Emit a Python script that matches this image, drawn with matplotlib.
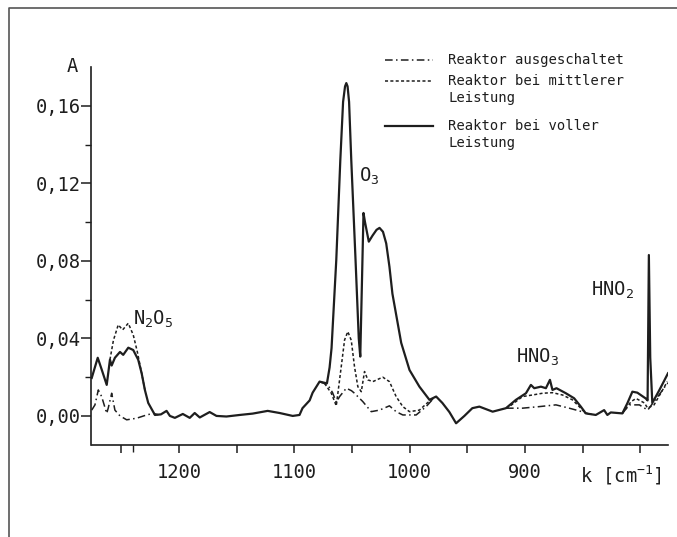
import numpy as np
import matplotlib
matplotlib.use('Agg')
import matplotlib.pyplot as plt
from matplotlib.lines import Line2D
from matplotlib.ticker import FixedLocator, FixedFormatter

plt.rcParams['font.family'] = ['DejaVu Sans Mono']
plt.rcParams['mathtext.default'] = 'regular'

# Wavenumber k [cm-1] and absorbance A
# Reactor at full power (solid line)
k_full = [1275.8, 1270.6, 1267.2, 1262.8, 1260.0, 1258.5, 1255.7, 1251.3, 1248.5, 1244.1,
          1239.8, 1235.5, 1232.5, 1229.7, 1226.8, 1221.0, 1215.8, 1210.9, 1208.0, 1203.7,
          1196.8, 1190.8, 1186.5, 1182.1, 1173.5, 1167.6, 1159.0, 1147.4, 1136.2, 1123.2,
          1112.8, 1101.5, 1095.6, 1093.0, 1086.8, 1084.2, 1078.2, 1071.8, 1069.5, 1067.8,
          1063.7, 1060.2, 1057.8, 1056.1, 1055.0, 1053.9, 1052.6, 1050.7, 1047.0, 1044.2,
          1042.9, 1041.4, 1040.1, 1038.8, 1035.5, 1032.3, 1028.8, 1026.2, 1023.2, 1020.4,
          1017.6, 1015.0, 1007.4, 1000.2, 991.6, 982.9, 977.1, 971.7, 965.6, 959.8,
          952.6, 945.7, 939.6, 928.1, 916.5, 907.9, 899.2, 894.9, 892.0, 886.2,
          881.9, 878.4, 876.2, 872.7, 864.6, 857.4, 851.6, 847.3, 838.6, 831.4,
          828.6, 825.6, 815.6, 811.2, 806.9, 802.6, 795.3, 793.7, 792.6, 791.4,
          789.6, 783.8, 780.3, 776.0]
a_full = [0.0196, 0.0300, 0.0240, 0.0160, 0.0290, 0.0260, 0.0300, 0.0330, 0.0315, 0.0352,
          0.0340, 0.0290, 0.0220, 0.0134, 0.0067, 0.0005, 0.0008, 0.0026, 0.0000, -0.0010,
          0.0010, -0.0010, 0.0015, -0.0008, 0.0020, 0.0000, -0.0003, 0.0005, 0.0012, 0.0026,
          0.0015, 0.0000, 0.0005, 0.0040, 0.0080, 0.0120, 0.0177, 0.0168, 0.0250, 0.0350,
          0.0805, 0.1320, 0.1620, 0.1700, 0.1717, 0.1700, 0.1620, 0.1320, 0.0805, 0.0400,
          0.0306, 0.0700, 0.1047, 0.1000, 0.0899, 0.0930, 0.0960, 0.0970, 0.0950, 0.0890,
          0.0770, 0.0630, 0.0377, 0.0237, 0.0151, 0.0083, 0.0100, 0.0067, 0.0020, -0.0038,
          0.0000, 0.0040, 0.0048, 0.0022, 0.0040, 0.0083, 0.0117, 0.0160, 0.0143, 0.0151,
          0.0143, 0.0186, 0.0134, 0.0143, 0.0117, 0.0091, 0.0048, 0.0013, 0.0005, 0.0030,
          0.0005, 0.0018, 0.0013, 0.0066, 0.0125, 0.0120, 0.0090, 0.0080, 0.0830, 0.0300,
          0.0067, 0.0130, 0.0170, 0.0220]

# Reactor at medium power (dotted); nan = hidden under the solid line
k_mid = [1260.0, 1257.0, 1252.8, 1249.0, 1244.1, 1239.8, 1236.3, 1232.5, 1229.7, np.nan,
         1078.2, 1073.9, 1068.0, 1063.7, 1059.4, 1056.5, 1053.7, 1050.7, 1047.9, 1045.0,
         1042.0, 1039.2, 1036.3, 1032.0, 1023.4, 1017.6, 1011.8, 1006.0, 1000.2, 991.6,
         984.4, 980.0, 977.1, np.nan,
         916.5, 913.7, 902.1, 893.5, 884.8, 876.2, 867.5, 858.9, 853.0, 847.3, np.nan,
         815.6, 808.0, 803.7, 796.5, 793.6, 788.1, 782.3, 776.6]
a_mid = [0.0290, 0.0390, 0.0470, 0.0444, 0.0478, 0.0418, 0.0332, 0.0220, 0.0134, np.nan,
         0.0177, 0.0168, 0.0117, 0.0052, 0.0254, 0.0392, 0.0435, 0.0390, 0.0254, 0.0151,
         0.0125, 0.0229, 0.0186, 0.0177, 0.0200, 0.0177, 0.0100, 0.0048, 0.0022, 0.0030,
         0.0069, 0.0086, 0.0100, np.nan,
         0.0040, 0.0048, 0.0100, 0.0108, 0.0117, 0.0120, 0.0108, 0.0083, 0.0048, 0.0013, np.nan,
         0.0013, 0.0074, 0.0090, 0.0067, 0.0040, 0.0057, 0.0117, 0.0177]

# Reactor switched off (dash-dot)
k_off = [1275.8, 1273.0, 1270.1, 1267.2, 1262.8, 1261.5, 1258.5, 1255.7, 1251.3, 1245.5,
         1236.9, 1228.2, 1222.5, 1218.0, np.nan,
         1078.2, 1071.0, 1066.9, 1063.7, 1060.8, 1055.0, 1050.5, 1047.9, 1040.7, 1033.4,
         1026.2, 1017.6, 1011.8, 1006.0, 994.4, 985.8, 980.0, np.nan,
         916.5, 913.7, 902.1, 887.7, 873.2, 861.7, 853.0, 844.4, 838.6, np.nan,
         815.6, 809.5, 800.8, 793.6, 789.3, 780.6, 777.7, 776.0]
a_off = [0.0030, 0.0057, 0.0134, 0.0100, 0.0013, 0.0040, 0.0117, 0.0030, 0.0000, -0.0020,
         -0.0012, 0.0005, 0.0013, 0.0006, np.nan,
         0.0177, 0.0160, 0.0120, 0.0070, 0.0100, 0.0143, 0.0130, 0.0117, 0.0074, 0.0022,
         0.0030, 0.0052, 0.0022, 0.0005, 0.0005, 0.0048, 0.0086, np.nan,
         0.0040, 0.0040, 0.0040, 0.0048, 0.0057, 0.0040, 0.0026, 0.0010, 0.0005, np.nan,
         0.0013, 0.0057, 0.0057, 0.0030, 0.0065, 0.0134, 0.0160, 0.0170]

y_ticks = [0.00, 0.04, 0.08, 0.12, 0.16]
y_labels = ['0,00', '0,04', '0,08', '0,12', '0,16']
y_minor = [0.02, 0.06, 0.10, 0.14]
x_ticks = [1250, 1200, 1150, 1100, 1050, 1000, 950, 900, 850, 800]
x_labels = ['', '1200', '', '1100', '', '1000', '', '900', '', '']

legend_labels = [['Reaktor ausgeschaltet'],
                 ['Reaktor bei mittlerer', 'Leistung'],
                 ['Reaktor bei voller', 'Leistung']]

ink = '#1e1e1e'
W, H = 677, 537
fig = plt.figure(figsize=(W / 100, H / 100), dpi=100)
ax = fig.add_axes([91.5 / W, (H - 445) / H, (668 - 91.5) / W, (445 - 67) / H])

off_style = dict(color=ink, lw=1.1, dashes=(5, 2.2, 1, 2.2))
mid_style = dict(color=ink, lw=1.1, dashes=(2, 1.5))
full_style = dict(color=ink, lw=1.6, solid_joinstyle='round')

ax.plot(k_off, a_off, zorder=2, **off_style)
ax.plot(k_mid, a_mid, zorder=2, **mid_style)
ax.plot(k_full, a_full, zorder=3, **full_style)

ax.set_xlim(1276, 776)
ax.set_ylim(-0.015, 0.180)

for s in ['top', 'right']:
    ax.spines[s].set_visible(False)
for s in ['left', 'bottom']:
    ax.spines[s].set_color(ink)
    ax.spines[s].set_linewidth(1.2)

ax.yaxis.set_major_locator(FixedLocator(y_ticks))
ax.yaxis.set_major_formatter(FixedFormatter(y_labels))
ax.yaxis.set_minor_locator(FixedLocator(y_minor))
ax.xaxis.set_major_locator(FixedLocator(x_ticks))
ax.xaxis.set_major_formatter(FixedFormatter(x_labels))
ax.xaxis.set_minor_locator(FixedLocator([1240]))

ax.tick_params(axis='y', which='major', direction='out', length=7, width=1.1,
               pad=1, labelsize=13.5, colors=ink)
ax.tick_params(axis='y', which='minor', direction='out', length=4, width=1.0, colors=ink)
ax.tick_params(axis='x', which='major', direction='out', length=6, width=1.1,
               pad=7, labelsize=13.5, colors=ink)
ax.tick_params(axis='x', which='minor', direction='out', length=5, width=1.0, colors=ink)

# band labels
lab = dict(fontsize=13.5, color=ink, ha='left', va='baseline')
ax.text(1240, 0.047, r'N$_2$O$_5$', **lab)
ax.text(1044, 0.1207, r'O$_3$', **lab)
ax.text(908, 0.0273, r'HNO$_3$', **lab)
ax.text(843, 0.0619, r'HNO$_2$', **lab)

ax.text((580 - 91.5) / (668 - 91.5), -0.08, r'k [cm$^{-1}$]', transform=ax.transAxes,
        fontsize=13.5, color=ink, ha='left', va='center')
fig.text(72 / W, 1 - 66 / H, 'A', fontsize=13.5, color=ink, ha='center', va='center')

# legend drawn by hand so the sample line sits on the first text line
rows = [60, 126]
row_y = [60, 81, 126]
styles = [off_style, mid_style, full_style]
for yy, st, labels in zip(row_y, styles, legend_labels):
    yf = 1 - yy / H
    fig.add_artist(Line2D([385 / W, 433 / W], [yf, yf], transform=fig.transFigure, **st))
    for i, t in enumerate(labels):
        fig.text(448 / W, 1 - (yy + 17 * i) / H, t, fontsize=10, color=ink,
                 ha='left', va='center')

# outer frame of the scanned figure
fig.add_artist(Line2D([9 / W, 9 / W, 1], [0, 1 - 8 / H, 1 - 8 / H],
                      transform=fig.transFigure, color='#555555', lw=1.2))

fig.savefig('out.png', dpi=100)
